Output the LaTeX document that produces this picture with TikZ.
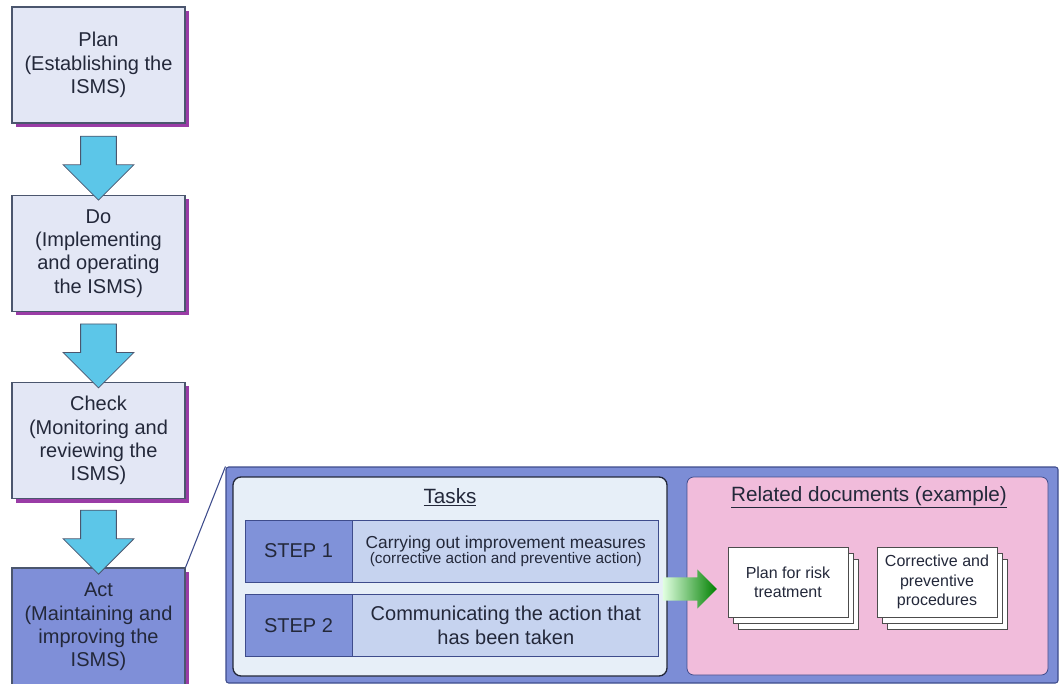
\documentclass[tikz,border=0pt]{standalone}
\usepackage{fontspec}
\setmainfont{Liberation Sans}
\usetikzlibrary{positioning,calc,shapes.arrows,shadows}

\definecolor{phasefill}{HTML}{E3E7F5}
\definecolor{phaseline}{HTML}{4B566E}
\definecolor{shadowpurple}{HTML}{9A3CA6}
\definecolor{actfill}{HTML}{7F8FD8}
\definecolor{panelfill}{HTML}{7C8DD6}
\definecolor{panelline}{HTML}{3E4C8C}
\definecolor{taskfill}{HTML}{E7EFF8}
\definecolor{steplabel}{HTML}{8092D9}
\definecolor{steptextfill}{HTML}{C6D3EF}
\definecolor{docpink}{HTML}{F1BCDB}
\definecolor{flowcyan}{HTML}{5CC6E8}
\definecolor{inkdark}{HTML}{23283A}

\begin{document}
\begin{tikzpicture}[x=0.75pt,y=-0.75pt,
  phase/.style={rectangle,draw=phaseline,line width=0.8pt,fill=phasefill,text=inkdark,
    minimum width=129.75pt,minimum height=87pt,align=center,
    font=\fontsize{15}{17.5}\selectfont,
    drop shadow={shadow xshift=3pt,shadow yshift=-3pt,fill=shadowpurple,opacity=1}},
  flowarrow/.style={single arrow,draw=phaseline,line width=0.6pt,fill=flowcyan,
    minimum height=48pt,single arrow head extend=13.1pt,
    inner xsep=0pt,inner ysep=13.1pt,rotate=-90},
  pusharrow/.style={single arrow,draw=none,left color=green!12!white,right color=green!50!black,
    minimum height=40.5pt,single arrow head extend=6pt,inner xsep=0pt,inner ysep=8.5pt},
  panel/.style={rectangle,draw=panelline,line width=0.8pt,fill=panelfill,rounded corners=2pt},
  taskbox/.style={rectangle,draw=inkdark,line width=1pt,fill=taskfill,rounded corners=6pt},
  relbox/.style={rectangle,draw=panelline,line width=0.6pt,fill=docpink,rounded corners=5pt},
  stepbox/.style={rectangle,draw=panelline,line width=0.6pt,fill=steplabel,text=inkdark,
    minimum width=80.25pt,minimum height=46.5pt,font=\fontsize{15}{18}\selectfont},
  steptext/.style={rectangle,draw=panelline,line width=0.6pt,fill=steptextfill,text=inkdark,
    minimum width=229.5pt,minimum height=46.5pt,align=center,inner sep=1pt},
  doc/.style={rectangle,draw=gray!60!black,line width=0.5pt,fill=white,text=inkdark,
    minimum width=90pt,minimum height=52.5pt,align=center,
    font=\fontsize{12}{14.5}\selectfont,
    general shadow={shadow xshift=8pt,shadow yshift=-9.5pt,draw=gray!60!black,fill=white},
    general shadow={shadow xshift=4pt,shadow yshift=-4.75pt,draw=gray!60!black,fill=white}},
  title/.style={text=inkdark,font=\fontsize{15.5}{18}\selectfont}]
  \useasboundingbox (0,0) rectangle (1061,684);
  \clip (0,0) rectangle (1061,684);
  % zoomed panel
  \node[panel,minimum width=624pt,minimum height=162pt] (panel) at (642,575) {};
  \node[taskbox,minimum width=325.5pt,minimum height=149.25pt] (tasks) at (450,576.5) {};
  \node[relbox,minimum width=270.75pt,minimum height=148.5pt] (rel) at (867.5,576) {};
  \node[title] (tasktitle) at (450,497) {\underline{Tasks}};
  \node[title] (reltitle) at (869,497) {\underline{Related documents (example)}};

  \node[stepbox] (step1) at (298.5,551) {STEP 1};
  \node[steptext,right=0pt of step1] (task1)
    {{\fontsize{13}{15}\selectfont Carrying out improvement measures}\\[-1pt]
     {\fontsize{11.5}{13}\selectfont (corrective action and preventive action)}};
  \node[stepbox] (step2) at (298.5,625.5) {STEP 2};
  \node[steptext,right=0pt of step2,font=\fontsize{15}{17.5}\selectfont] (task2)
    {Communicating the action that\\has been taken};

  \node[pusharrow,anchor=tail] (push) at ($(tasks.east)+(-5,12.5)$) {};
  \node[doc] (riskplan) at (788,582) {Plan for risk\\treatment};
  \node[doc] (procs) at (937,582) {Corrective and\\preventive\\procedures};

  % PDCA column
  \node[phase] (plan) at (98.5,65)    {Plan\\(Establishing the\\ISMS)};
  \node[phase] (do) at (98.5,253.5)   {Do\\(Implementing\\and operating\\the ISMS)};
  \node[phase] (check) at (98.5,440.5){Check\\(Monitoring and\\reviewing the\\ISMS)};
  \node[phase,fill=actfill,minimum height=88.5pt] (act) at (98.5,627)
    {Act\\(Maintaining and\\improving the\\ISMS)};

  \node[flowarrow] (a1) at ($(plan.south)!0.5!(do.north)$) {};
  \node[flowarrow] (a2) at ($(do.south)!0.5!(check.north)$) {};
  \node[flowarrow] (a3) at ($(check.south)!0.5!(act.north)$) {};

  \draw[panelline,line width=0.8pt] (act.north east) -- (panel.north west);
\end{tikzpicture}
\end{document}
